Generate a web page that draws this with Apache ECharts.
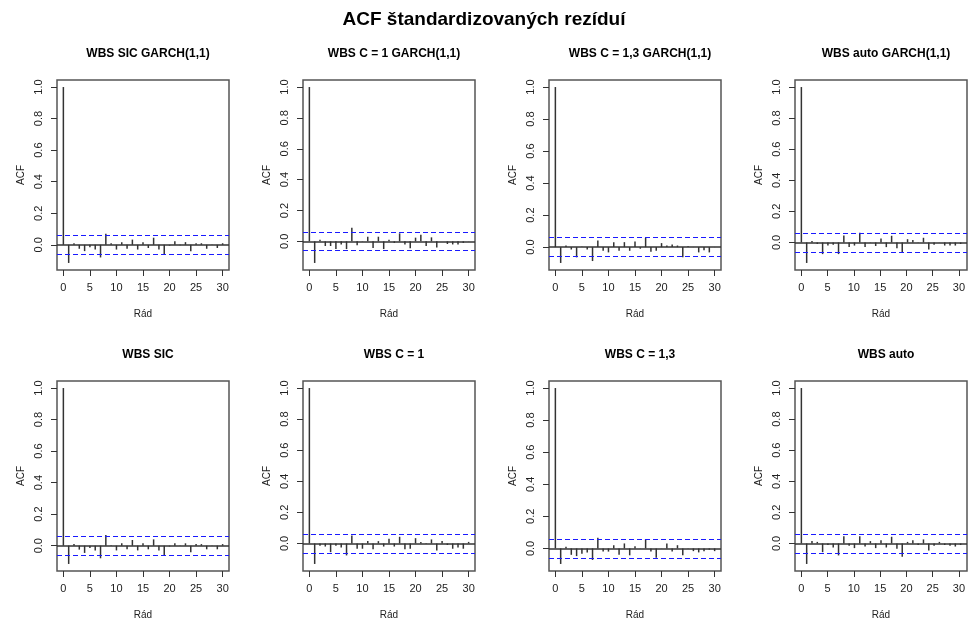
<!DOCTYPE html>
<html>
<head>
<meta charset="utf-8">
<script src="https://cdn.jsdelivr.net/npm/echarts@6/dist/echarts.min.js"></script>
<style>
  html, body { margin: 0; padding: 0; background: #fff; }
  #chart { width: 968px; height: 622px; }
</style>
</head>
<body>
<div id="chart"></div>
<script>
const lags = [0, 1, 2, 3, 4, 5, 6, 7, 8, 9, 10, 11, 12, 13, 14, 15, 16, 17, 18, 19, 20, 21, 22, 23, 24, 25, 26, 27, 28, 29, 30]
const xTickStep = 5
const yTickStep = 0.2

const panelTitles = [
  'WBS SIC GARCH(1,1)', 'WBS C = 1 GARCH(1,1)', 'WBS C = 1,3 GARCH(1,1)', 'WBS auto GARCH(1,1)',
  'WBS SIC', 'WBS C = 1', 'WBS C = 1,3', 'WBS auto'
]
// 95% bounds (+/-)
const ciBounds = [0.060, 0.060, 0.059, 0.062, 0.060, 0.058, 0.058, 0.058]

const acfSicGarch = [1, -0.115, 0.01, -0.025, -0.04, -0.015, -0.03, -0.08, 0.07, 0.01, -0.03, 0.017, -0.025, 0.033, -0.03, 0.017, -0.02, 0.045, -0.03, -0.06, -0.005, 0.023, -0.003, 0.017, -0.04, 0.01, 0.01, -0.025, 0.002, -0.02, 0.01]
const acfC1Garch = [1, -0.14, 0.01, -0.03, -0.03, -0.05, -0.02, -0.05, 0.088, -0.025, 0.002, 0.03, -0.043, 0.03, -0.05, 0.01, -0.01, 0.052, -0.02, -0.045, 0.024, 0.043, -0.03, 0.026, -0.04, 0.001, -0.017, -0.02, -0.02, -0.01, 0.001]
const acfC13Garch = [1, -0.099, 0.01, -0.015, -0.064, 0.002, -0.015, -0.087, 0.041, -0.023, -0.033, 0.031, -0.023, 0.031, -0.023, 0.035, -0.01, 0.058, -0.029, -0.023, 0.025, 0.01, 0.016, 0.01, -0.064, 0.006, 0.001, -0.033, -0.019, -0.033, 0.001]
const acfAutoGarch = [1, -0.132, 0.01, -0.01, -0.075, -0.02, -0.015, -0.075, 0.045, -0.03, -0.02, 0.062, -0.03, 0.002, -0.023, 0.026, -0.03, 0.043, -0.038, -0.068, 0.021, 0.015, 0.001, 0.03, -0.045, -0.015, 0.001, -0.02, -0.02, -0.02, -0.01]
const acfSic = [1, -0.116, 0.01, -0.025, -0.046, -0.015, -0.03, -0.08, 0.067, 0.002, -0.03, 0.015, -0.023, 0.036, -0.03, 0.015, -0.023, 0.04, -0.03, -0.063, -0.005, 0.015, 0.001, 0.015, -0.042, 0.01, 0.01, -0.023, 0.001, -0.023, 0.01]
const acfC1 = [1, -0.132, -0.015, -0.02, -0.056, -0.015, -0.026, -0.077, 0.051, -0.034, -0.034, 0.015, -0.038, 0.015, -0.02, 0.03, -0.02, 0.043, -0.038, -0.034, 0.034, 0.01, -0.004, 0.026, -0.045, 0.015, -0.01, -0.034, -0.026, -0.034, 0.01]
const acfC13 = [1, -0.097, 0.01, -0.04, -0.048, -0.033, -0.025, -0.072, 0.066, -0.02, -0.02, 0.02, -0.04, 0.031, -0.043, 0.014, 0.001, 0.056, -0.02, -0.058, 0.001, 0.031, -0.02, 0.02, -0.043, 0.001, -0.017, -0.025, -0.017, -0.008, -0.017]
const acfAuto = [1, -0.132, 0.015, 0.01, -0.056, -0.01, -0.026, -0.077, 0.047, -0.015, -0.03, 0.047, -0.02, 0.015, -0.03, 0.02, -0.026, 0.043, -0.034, -0.085, 0.01, 0.02, -0.01, 0.026, -0.045, -0.015, 0.01, -0.01, -0.015, -0.02, -0.01]

const panelData = [acfSicGarch, acfC1Garch, acfC13Garch, acfAutoGarch, acfSic, acfC1, acfC13, acfAuto]

const chart = echarts.init(document.getElementById('chart'))

const colLeft = [57, 303, 549, 795]
const rowTop = [80, 381]
const boxW = 172
const boxH = 190
const xMin = -1.2
const xMax = 31.2
const font = 'Liberation Sans, Arial, Helvetica, sans-serif'
const tickStyle = { show: true, length: 6, lineStyle: { color: '#333', width: 1 } }
const labelStyle = { fontFamily: font, fontSize: 11, color: '#222' }
const nameStyle = { fontFamily: font, fontSize: 10, color: '#222' }

// every grid gets exactly one x and one y axis, so axis index == grid index
const grids = []
const xAxes = []
const yAxes = []
const series = []
const titles = [{
  text: 'ACF štandardizovaných rezíduí',
  left: 'center',
  top: 5,
  textStyle: { fontFamily: font, fontSize: 19, fontWeight: 'bold', color: '#000' }
}]

panelData.forEach((acf, i) => {
  const left = colLeft[i % 4]
  const top = rowTop[Math.floor(i / 4)]
  const ci = ciBounds[i]
  // R style limits: data range padded by 4% on each side
  const lo = Math.min(Math.min.apply(null, acf), -ci)
  const span = 1 - lo
  const yMin = lo - 0.04 * span
  const yMax = 1 + 0.04 * span

  const gm = grids.length
  grids.push({
    left: left, top: top, width: boxW, height: boxH,
    show: true, borderColor: '#555', borderWidth: 1.5, backgroundColor: '#fff'
  })
  titles.push({
    text: panelTitles[i],
    left: left + boxW / 2,
    top: top - 37,
    textAlign: 'center',
    textStyle: { fontFamily: font, fontSize: 12, fontWeight: 'bold', color: '#000' }
  })
  xAxes.push({
    type: 'value', gridIndex: gm, min: xMin, max: xMax,
    name: 'Rád', nameLocation: 'middle', nameGap: 39, nameTextStyle: nameStyle,
    axisLine: { show: false, onZero: false }, splitLine: { show: false },
    axisTick: { show: false }, axisLabel: { show: false }
  })
  yAxes.push({
    type: 'value', gridIndex: gm, min: yMin, max: yMax,
    name: 'ACF', nameLocation: 'middle', nameGap: 31, nameRotate: 90, nameTextStyle: nameStyle,
    axisLine: { show: false, onZero: false }, splitLine: { show: false },
    axisTick: { show: false }, axisLabel: { show: false }
  })
  series.push({
    type: 'bar',
    xAxisIndex: gm,
    yAxisIndex: gm,
    barWidth: 1.5,
    itemStyle: { color: '#333' },
    silent: true,
    data: acf.map((v, k) => [lags[k], v]),
    markLine: {
      silent: true,
      symbol: 'none',
      label: { show: false },
      data: [
        { yAxis: 0, lineStyle: { color: '#333', width: 1.5, type: 'solid' } },
        { yAxis: ci, lineStyle: { color: '#1a1aff', width: 1.2, type: [5, 3] } },
        { yAxis: -ci, lineStyle: { color: '#1a1aff', width: 1.2, type: [5, 3] } }
      ]
    }
  })

  // R draws axes only from first to last tick: extra grids cover lag 0..30 and ACF 0..1
  const pxX = boxW / (xMax - xMin)
  const pxY = boxH / (yMax - yMin)
  const gx = grids.length
  grids.push({ left: left - xMin * pxX, top: top, width: 30 * pxX, height: boxH })
  xAxes.push({
    type: 'value', gridIndex: gx, min: 0, max: 30, interval: xTickStep,
    axisLine: { show: false, onZero: false }, splitLine: { show: false },
    axisTick: tickStyle, axisLabel: Object.assign({ margin: 12 }, labelStyle)
  })
  yAxes.push({ type: 'value', gridIndex: gx, show: false, min: 0, max: 1 })

  const gy = grids.length
  grids.push({ left: left, top: top + (yMax - 1) * pxY, width: boxW, height: pxY })
  xAxes.push({ type: 'value', gridIndex: gy, show: false, min: 0, max: 1 })
  yAxes.push({
    type: 'value', gridIndex: gy, min: 0, max: 1, interval: yTickStep,
    axisLine: { show: false, onZero: false }, splitLine: { show: false },
    axisTick: tickStyle,
    axisLabel: Object.assign({ margin: 13, rotate: 90, formatter: v => v.toFixed(1) }, labelStyle)
  })
})

chart.setOption({
  animation: false,
  backgroundColor: '#fff',
  title: titles,
  grid: grids,
  xAxis: xAxes,
  yAxis: yAxes,
  series: series
})
</script>
</body>
</html>
